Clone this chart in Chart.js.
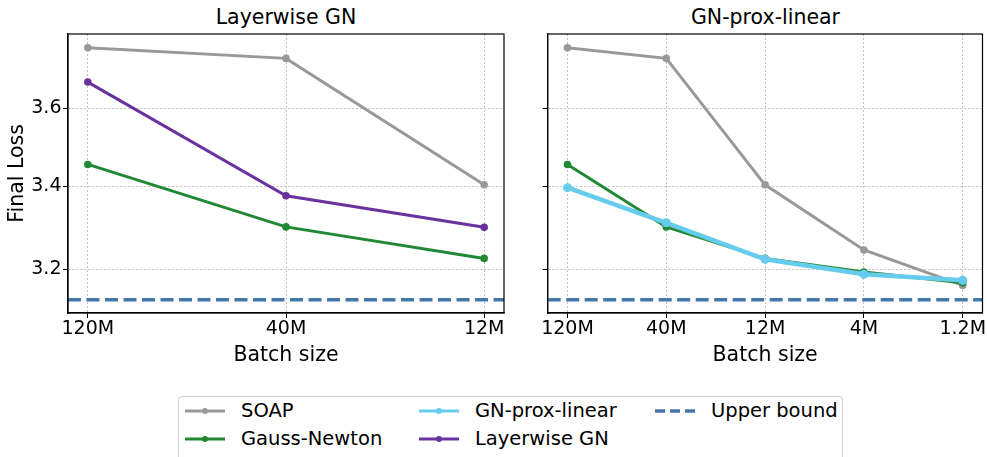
<!DOCTYPE html>
<html>
<head>
<meta charset="utf-8">
<script src="https://cdn.jsdelivr.net/npm/chart.js@4"></script>
<style>
body { margin:0; background:#fff; width:987px; height:457px; overflow:hidden; position:relative; font-family:"DejaVu Sans", sans-serif; }
canvas { position:absolute; top:0; }
#izq { left:0; }
#der { left:500px; }
.titulo { position:absolute; top:4px; font-size:20.5px; line-height:26px; transform:translateX(-50%); white-space:nowrap; color:#000; }
#leyenda { position:absolute; left:178px; top:396px; width:665px; height:80px; border:1px solid #d0d0d0; border-radius:4px; box-sizing:border-box; }
.item { position:absolute; display:flex; align-items:center; font-size:19.5px; height:24px; line-height:24px; color:#000; white-space:nowrap; }
.item svg { margin-right:16px; }
</style>
</head>
<body>
<div class="titulo" style="left:286px">Layerwise GN</div>
<div class="titulo" style="left:765.5px">GN-prox-linear</div>
<canvas id="izq" width="515" height="380"></canvas>
<canvas id="der" width="487" height="380"></canvas>
<div id="leyenda"></div>
<script>
const etiquetasIzq = ['120M', '40M', '12M'];
const etiquetasDer = ['120M', '40M', '12M', '4M', '1.2M'];
const soap = [3.762, 3.733, 3.404, 3.246, 3.163];
const gaussNewton = [3.455, 3.301, 3.226, 3.194, 3.169];
const proxLinear = [3.397, 3.311, 3.224, 3.189, 3.175];
const layerwise = [3.669, 3.377, 3.300];
const cotaSuperior = 3.13;
const ticksY = [3.2, 3.4, 3.6];

const fuente = '"DejaVu Sans", sans-serif';
const colores = { soap:'#999999', gn:'#228833', prox:'#66ccee', layer:'#6a329f', cota:'#4477aa' };

function puntos(valores) {
  return valores.map((v, i) => ({ x: i, y: v }));
}

function serie(label, valores, color, orden, ancho, radio) {
  return {
    label, data: puntos(valores),
    borderColor: color, backgroundColor: color,
    borderWidth: ancho, pointRadius: radio, pointHoverRadius: radio, pointBorderWidth: 0,
    tension: 0, order: orden
  };
}

function lineaCota(n) {
  return {
    label: 'Upper bound',
    data: [{ x: -0.05 * n, y: cotaSuperior }, { x: 1.05 * n, y: cotaSuperior }],
    borderColor: colores.cota, borderWidth: 3.5, borderDash: [13, 5.5],
    pointRadius: 0, order: 1
  };
}

// marco completo alrededor del area del grafico
const marco = {
  id: 'marco',
  afterDatasetsDraw(chart) {
    const a = chart.chartArea;
    const ctx = chart.ctx;
    ctx.save();
    ctx.strokeStyle = '#000';
    ctx.lineWidth = 1.2;
    ctx.strokeRect(a.left, a.top, a.right - a.left, a.bottom - a.top);
    ctx.restore();
  }
};

function opciones(etiquetas, anchoY, derecha, conEtiquetas) {
  const n = etiquetas.length - 1;
  return {
    responsive: false, animation: false, devicePixelRatio: 1,
    layout: { padding: { top: 34, right: derecha, left: 0, bottom: 0 } },
    plugins: { legend: { display: false }, title: { display: false }, tooltip: { enabled: false } },
    scales: {
      x: {
        type: 'linear', min: -0.05 * n, max: 1.05 * n,
        afterBuildTicks: s => { s.ticks = etiquetas.map((e, i) => ({ value: i })); },
        afterFit: s => { s.height = 67; },
        ticks: { callback: v => etiquetas[v], font: { size: 19, family: fuente }, color: '#000', padding: 0, maxRotation: 0, autoSkip: false },
        grid: { color: '#b0b0b0', lineWidth: 0.8, tickColor: '#000', tickLength: 5, tickWidth: 1 },
        border: { color: '#000', width: 1.2, dash: [2, 2] },
        title: { display: true, text: 'Batch size', font: { size: 20.5, family: fuente }, color: '#000', padding: { top: 0, bottom: 12 } }
      },
      y: {
        type: 'logarithmic', min: 3.1, max: 3.8,
        afterBuildTicks: s => { s.ticks = ticksY.map(v => ({ value: v })); },
        afterFit: s => { s.width = anchoY; },
        ticks: { callback: v => conEtiquetas ? v.toFixed(1) : '', font: { size: 19, family: fuente }, color: '#000', padding: 1.5 },
        grid: { color: '#b0b0b0', lineWidth: 0.8, tickColor: '#000', tickLength: 5, tickWidth: 1 },
        border: { color: '#000', width: 1.2, dash: [2, 2] },
        title: { display: conEtiquetas, text: 'Final Loss', font: { size: 20.5, family: fuente }, color: '#000', padding: { top: 5, bottom: 0 } }
      }
    }
  };
}

new Chart(document.getElementById('izq'), {
  type: 'line',
  data: {
    datasets: [
      serie('SOAP', soap.slice(0, 3), colores.soap, 5, 3, 3.8),
      serie('Gauss-Newton', gaussNewton.slice(0, 3), colores.gn, 4, 3, 3.8),
      serie('Layerwise GN', layerwise, colores.layer, 2, 3, 3.8),
      lineaCota(etiquetasIzq.length - 1)
    ]
  },
  options: opciones(etiquetasIzq, 68, 11, true),
  plugins: [marco]
});

new Chart(document.getElementById('der'), {
  type: 'line',
  data: {
    datasets: [
      serie('SOAP', soap, colores.soap, 5, 3, 3.8),
      serie('Gauss-Newton', gaussNewton, colores.gn, 4, 3, 3.8),
      serie('GN-prox-linear', proxLinear, colores.prox, 3, 4.5, 4.5),
      lineaCota(etiquetasDer.length - 1)
    ]
  },
  options: opciones(etiquetasDer, 47.7, 3.7, false),
  plugins: [marco]
});

// leyenda compartida
const entradas = [
  { texto: 'SOAP', color: colores.soap, x: 6, y: 2 },
  { texto: 'Gauss-Newton', color: colores.gn, x: 6, y: 29.5 },
  { texto: 'GN-prox-linear', color: colores.prox, x: 240, y: 2 },
  { texto: 'Layerwise GN', color: colores.layer, x: 240, y: 29.5 },
  { texto: 'Upper bound', color: colores.cota, x: 476, y: 2, guion: true }
];
const leyenda = document.getElementById('leyenda');
entradas.forEach(e => {
  const d = document.createElement('div');
  d.className = 'item';
  d.style.left = e.x + 'px';
  d.style.top = e.y + 'px';
  const muestra = e.guion
    ? '<line x1="0" y1="5" x2="40" y2="5" stroke="' + e.color + '" stroke-width="3.5" stroke-dasharray="10 5"/>'
    : '<line x1="0" y1="5" x2="40" y2="5" stroke="' + e.color + '" stroke-width="3"/><circle cx="20" cy="5" r="3" fill="' + e.color + '"/>';
  d.innerHTML = '<svg width="40" height="10">' + muestra + '</svg><span>' + e.texto + '</span>';
  leyenda.appendChild(d);
});
</script>
</body>
</html>
